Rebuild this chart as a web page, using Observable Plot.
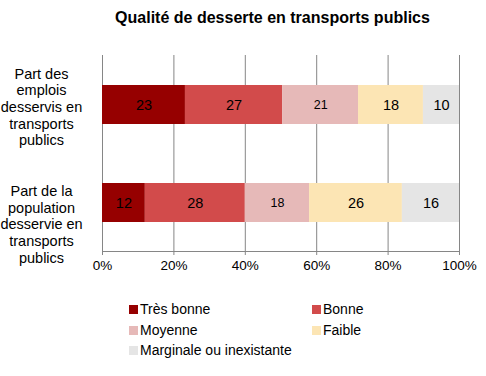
<!DOCTYPE html>
<html>
<head>
<meta charset="utf-8">
<script src="https://cdn.jsdelivr.net/npm/d3@7"></script>
<script src="https://cdn.jsdelivr.net/npm/@observablehq/plot@0.6"></script>
<style>
  body { margin: 0; background: #fff; font-family: "Liberation Sans", Arial, sans-serif; }
  #wrap { width: 486px; height: 376px; position: relative; overflow: hidden; }
  #title { height: 40px; line-height: 36px; font-weight: bold; font-size: 16px; text-align: center; padding-left: 59px; box-sizing: border-box; width: 486px; color: #000; }
  #legend { position: relative; height: 91px; width: 486px; font-size: 14px; color: #000; }
  .item { position: absolute; display: flex; align-items: center; height: 18px; white-space: nowrap; }
  .sw { width: 9px; height: 9px; margin-right: 2px; }
  svg { display: block; }
</style>
</head>
<body>
<div id="wrap">
  <div id="title">Qualité de desserte en transports publics</div>
  <div id="chart"></div>
  <div id="legend"></div>
</div>
<script>
const categories = ["Part des emplois desservis en transports publics", "Part de la population desservie en transports publics"];
const categoryLabels = ["Part des\nemplois\ndesservis en\ntransports\npublics", "Part de la\npopulation\ndesservie en\ntransports\npublics"];
const series = ["Très bonne", "Bonne", "Moyenne", "Faible", "Marginale ou inexistante"];
const seriesColors = ["#960000", "#d24b4b", "#e6b9b8", "#fce5b4", "#e5e5e5"];
const emploisValues = [23, 27, 21, 18, 10];
const populationValues = [12, 28, 18, 26, 16];
const xTicks = [0, 0.2, 0.4, 0.6, 0.8, 1];

const rows = [];
[emploisValues, populationValues].forEach((vals, ci) => {
  vals.forEach((v, si) => rows.push({cat: categories[ci], serie: series[si], value: v}));
});

const labelOf = new Map(categories.map((c, i) => [c, categoryLabels[i]]));
const grid = "#868686";

const chart = Plot.plot({
  width: 486,
  height: 245,
  marginTop: 15,
  marginBottom: 34,
  marginLeft: 102,
  marginRight: 27,
  style: {fontFamily: "'Liberation Sans', Arial, sans-serif", color: "#000", background: "#fff"},
  x: {domain: [0, 1], axis: null},
  y: {domain: categories, paddingInner: 0.606, paddingOuter: 0.293, axis: null},
  color: {domain: series, range: seriesColors},
  marks: [
    Plot.gridX(xTicks, {stroke: grid, strokeOpacity: 1, strokeWidth: 1}),
    Plot.barX(rows, Plot.stackX({offset: "normalize", x: "value", y: "cat", fill: "serie"})),
    Plot.text(rows, Plot.stackX({offset: "normalize", x: "value", y: "cat", z: "serie", text: d => String(d.value), fill: "#000", fontSize: d => d.serie === "Moyenne" ? 12.5 : 14.5})),
    Plot.frame({anchor: "bottom", stroke: grid}),
    Plot.axisX(xTicks, {label: null, tickSize: 4, stroke: grid, tickFormat: d3.format(".0%"), fontSize: 13.5, fill: "#000", tickPadding: 5}),
    Plot.axisY([categories[0]], {label: null, tickSize: 0, tickFormat: d => labelOf.get(d), textAnchor: "middle", dx: -52, dy: 1.5, fontSize: 14.5, lineHeight: 1.15, fill: "#000"}),
    Plot.axisY([categories[1]], {label: null, tickSize: 0, tickFormat: d => labelOf.get(d), textAnchor: "middle", dx: -52, dy: 21, fontSize: 14.5, lineHeight: 1.15, fill: "#000"})
  ]
});
document.getElementById("chart").appendChild(chart);

// legend
const legend = document.getElementById("legend");
const pos = [[129, 24], [312, 24], [129, 45], [312, 45], [129, 65]];
series.forEach((s, i) => {
  const it = document.createElement("div");
  it.className = "item";
  it.style.left = pos[i][0] + "px";
  it.style.top = (pos[i][1] - 9) + "px";
  const sw = document.createElement("div");
  sw.className = "sw";
  sw.style.background = seriesColors[i];
  const tx = document.createElement("span");
  tx.textContent = s;
  it.appendChild(sw);
  it.appendChild(tx);
  legend.appendChild(it);
});
</script>
</body>
</html>
